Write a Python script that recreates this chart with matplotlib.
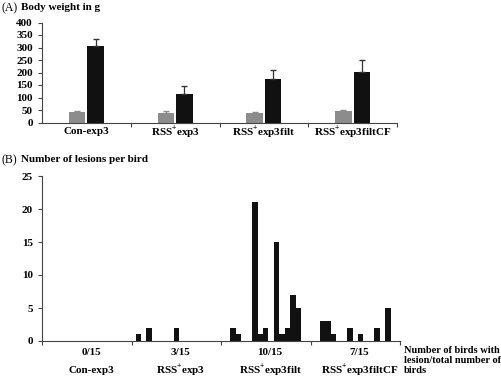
import matplotlib
matplotlib.use('Agg')
import matplotlib.pyplot as plt
import numpy as np

plt.rcParams['font.family'] = ['Liberation Serif', 'DejaVu Serif']
plt.rcParams['font.weight'] = 'bold'
plt.rcParams['mathtext.fontset'] = 'custom'
plt.rcParams['mathtext.bf'] = 'Liberation Serif:bold'
plt.rcParams['mathtext.rm'] = 'Liberation Serif:bold'

groups = ['Con-exp3', r'RSS$^{\mathbf{+}}$exp3', r'RSS$^{\mathbf{+}}$exp3filt', r'RSS$^{\mathbf{+}}$exp3filtCF']

# panel A: body weight (grey / black bars), upward error only
weight_grey = [41, 38, 40, 45]
weight_grey_err = [7, 10, 2, 7]
weight_black = [305, 115, 173, 203]
weight_black_err = [28, 30, 36, 49]

# panel B: lesions per bird, bird index (0..14) within each group
lesion_birds = [
    [],
    [0, 2, 7],
    [1, 2, 5, 6, 7, 9, 10, 11, 12, 13],
    [1, 2, 3, 6, 8, 11, 13],
]
lesion_counts = [
    [],
    [1, 2, 2],
    [2, 1, 21, 1, 2, 15, 1, 2, 7, 5],
    [3, 3, 1, 2, 1, 2, 5],
]
birds_ratio = ['0/15', '3/15', '10/15', '7/15']

GREY = '#8c8c8c'
BLACK = '#111111'
AXC = '#444444'
W, H = 502, 382

fig = plt.figure(figsize=(W / 100, H / 100), dpi=100)


def style_axes(ax):
    for s in ['top', 'right']:
        ax.spines[s].set_visible(False)
    for s in ['left', 'bottom']:
        ax.spines[s].set_color(AXC)
        ax.spines[s].set_linewidth(0.8)
    ax.tick_params(axis='both', colors=AXC, length=3, width=0.8, labelsize=8, labelcolor='black')


# ---- panel A ----
axA = fig.add_axes([42 / W, 1 - 122.5 / H, 355 / W, 100 / H])
style_axes(axA)
xc = np.arange(len(groups)) + 0.5
bw = 0.184
off = 0.104
axA.bar(xc - off, weight_grey, width=bw, color=GREY, edgecolor='none')
axA.bar(xc + off, weight_black, width=bw, color=BLACK, edgecolor='none')
axA.errorbar(xc - off, weight_grey, yerr=[np.zeros(4), weight_grey_err], fmt='none',
             ecolor=GREY, elinewidth=0.9, capsize=2)
axA.errorbar(xc + off, weight_black, yerr=[np.zeros(4), weight_black_err], fmt='none',
             ecolor='#333333', elinewidth=0.9, capsize=2)
axA.set_xlim(0, 4)
axA.set_ylim(0, 400)
axA.set_yticks(range(0, 401, 50))
axA.set_xticks([1, 2, 3, 4])
axA.set_xticklabels([])
for x, g in zip(xc, groups):
    axA.annotate(g, xy=(x, 0), xycoords=('data', 'axes fraction'), xytext=(0, -6.6),
                 textcoords='offset points', ha='center', va='center', fontsize=8, fontweight='bold')

fig.text(2 / W, 1 - 8 / H, '(A)', fontsize=8.5, fontweight='normal', va='center', ha='left')
fig.text(21 / W, 1 - 8 / H, 'Body weight in g', fontsize=8, fontweight='bold', va='center', ha='left')

# ---- panel B ----
axB = fig.add_axes([42 / W, 1 - 341 / H, 358 / W, 165 / H])
style_axes(axB)
slot = 16.5
for gi in range(len(groups)):
    xs = [gi * slot + 0.75 + b + 0.5 for b in lesion_birds[gi]]
    if xs:
        axB.bar(xs, lesion_counts[gi], width=1.0, color=BLACK, edgecolor='none')
axB.set_xlim(0, 4 * slot)
axB.set_ylim(0, 25)
axB.set_yticks(range(0, 26, 5))
axB.set_xticks([slot * k for k in range(5)])
axB.set_xticklabels([])
for gi, (r, g) in enumerate(zip(birds_ratio, groups)):
    x = gi * slot + slot / 2 + 0.8
    axB.annotate(r, xy=(x, 0), xycoords=('data', 'axes fraction'), xytext=(0, -8.6),
                 textcoords='offset points', ha='center', va='center', fontsize=8, fontweight='bold')
    axB.annotate(g, xy=(x, 0), xycoords=('data', 'axes fraction'), xytext=(0, -21),
                 textcoords='offset points', ha='center', va='center', fontsize=8, fontweight='bold')

fig.text(404 / W, 1 - 346 / H, 'Number of birds with\nlesion/total number of\nbirds',
         fontsize=7.5, fontweight='bold', va='top', ha='left', linespacing=1.15)

fig.text(2 / W, 1 - 160 / H, '(B)', fontsize=8.5, fontweight='normal', va='center', ha='left')
fig.text(21 / W, 1 - 160 / H, 'Number of lesions per bird', fontsize=8, fontweight='bold',
         va='center', ha='left')

fig.savefig('out.png', dpi=100)
